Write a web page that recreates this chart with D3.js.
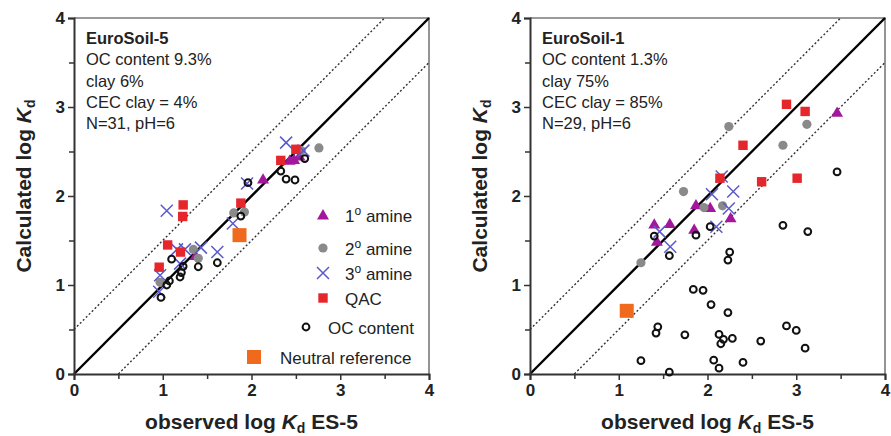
<!DOCTYPE html>
<html>
<head>
<meta charset="utf-8">
<script src="https://cdn.jsdelivr.net/npm/d3@7"></script>
<style>
  html, body { margin: 0; padding: 0; background: #fff; }
  svg { display: block; font-family: Arial, "Liberation Sans", sans-serif; }
</style>
</head>
<body>
<svg id="chart" width="891" height="436"></svg>
<script>
// ---- axis ticks ----
const majorTicks = [0, 1, 2, 3, 4];
const minorTicks = [0.5, 1.5, 2.5, 3.5];

// ---- EuroSoil-5 (observed log Kd, calculated log Kd) ----
const es5Primary = [[1.37, 1.33], [2.13, 2.19], [2.43, 2.40], [2.48, 2.41], [2.54, 2.45]];
const es5Secondary = [[0.97, 1.03], [1.345, 1.40], [1.40, 1.30], [1.80, 1.81], [1.92, 1.82], [2.56, 2.51], [2.76, 2.54]];
const es5Tertiary = [[1.045, 1.835], [1.16, 1.40], [1.25, 1.40], [1.43, 1.42], [1.615, 1.37], [1.195, 1.24],
                     [0.97, 1.11], [0.96, 0.925], [1.95, 2.14], [1.79, 1.69], [2.39, 2.60], [2.585, 2.51]];
const es5Qac = [[1.23, 1.90], [1.225, 1.77], [1.055, 1.45], [1.20, 1.37], [0.96, 1.20], [1.88, 1.92], [2.33, 2.40], [2.50, 2.525]];
const es5Oc = [[1.10, 1.29], [1.23, 1.21], [1.21, 1.14], [1.195, 1.09], [1.40, 1.205], [1.615, 1.25], [1.045, 1.00],
               [1.075, 1.045], [0.98, 0.86], [1.96, 2.15], [1.88, 1.775], [2.33, 2.28], [2.39, 2.19], [2.49, 2.18], [2.60, 2.42]];
const es5Neutral = [[1.865, 1.56]];

// ---- EuroSoil-1 ----
const es1Primary = [[1.87, 1.90], [2.03, 1.87], [1.40, 1.685], [1.575, 1.69], [1.43, 1.49], [1.85, 1.625], [2.26, 1.755], [3.46, 2.94]];
const es1Secondary = [[2.24, 2.78], [1.73, 2.05], [1.96, 1.87], [2.17, 1.89], [1.25, 1.25], [2.85, 2.57], [3.12, 2.805]];
const es1Tertiary = [[2.16, 2.22], [2.05, 2.02], [2.29, 2.05], [2.24, 1.86], [2.10, 1.655], [1.46, 1.60], [1.58, 1.43]];
const es1Qac = [[2.14, 2.20], [2.40, 2.57], [2.61, 2.16], [2.89, 3.03], [3.10, 2.95], [3.01, 2.20]];
const es1Oc = [[1.40, 1.55], [1.57, 1.33], [1.87, 1.56], [2.03, 1.655], [2.25, 1.37], [2.23, 1.28], [1.84, 0.95], [1.95, 0.94],
               [2.04, 0.78], [2.23, 0.69], [1.44, 0.53], [1.42, 0.46], [1.745, 0.44], [2.13, 0.445], [2.18, 0.39], [2.28, 0.40],
               [2.15, 0.34], [2.60, 0.37], [2.89, 0.54], [3.00, 0.49], [3.10, 0.29], [1.25, 0.15], [2.07, 0.155], [2.13, 0.065],
               [2.40, 0.13], [1.57, 0.02], [2.85, 1.67], [3.13, 1.60], [3.46, 2.27]];
const es1Neutral = [[1.09, 0.71]];

// ---- panel annotations ----
const es5Info = ["EuroSoil-5", "OC content 9.3%", "clay 6%", "CEC clay = 4%", "N=31, pH=6"];
const es1Info = ["EuroSoil-1", "OC content 1.3%", "clay 75%", "CEC clay = 85%", "N=29, pH=6"];
const legendLabels = [["1", " amine"], ["2", " amine"], ["3", " amine"], ["QAC"], ["OC content"], ["Neutral reference"]];

const colors = {
  primary: "#a3179c",
  secondary: "#8a8a8a",
  tertiary: "#5a5acb",
  qac: "#e5262b",
  oc: "#111111",
  neutral: "#ef6a1c"
};

const svg = d3.select("#chart");
const W = 355, H = 356;

const x = d3.scaleLinear().domain([0, 4]).range([0, W]);
const y = d3.scaleLinear().domain([0, 4]).range([H, 0]);

function drawPanel(ox, oy, data, info, withLegend) {
  const g = svg.append("g").attr("transform", `translate(${ox},${oy})`);

  // frame (top & right)
  g.append("path")
    .attr("d", `M0,0H${W}V${H}`)
    .attr("fill", "none").attr("stroke", "#7a7a7a").attr("stroke-width", 1.6);

  // 1:1 line and ±0.5 log-unit bands
  const lines = [
    { a: [0, 0], b: [4, 4], dash: null, w: 2.4, c: "#000" },
    { a: [0, 0.5], b: [3.5, 4], dash: "2,2.2", w: 1.4, c: "#333" },
    { a: [0.5, 0], b: [4, 3.5], dash: "2,2.2", w: 1.4, c: "#333" }
  ];
  lines.forEach(l => {
    g.append("line")
      .attr("x1", x(l.a[0])).attr("y1", y(l.a[1]))
      .attr("x2", x(l.b[0])).attr("y2", y(l.b[1]))
      .attr("stroke", l.c).attr("stroke-width", l.w)
      .attr("stroke-dasharray", l.dash);
  });

  // axes
  const xAxis = d3.axisBottom(x).tickValues(majorTicks).tickFormat(d3.format("d")).tickSize(6).tickPadding(3);
  const yAxis = d3.axisLeft(y).tickValues(majorTicks).tickFormat(d3.format("d")).tickSize(6).tickPadding(3);
  const xMinor = d3.axisBottom(x).tickValues(minorTicks).tickFormat("").tickSize(5);
  const yMinor = d3.axisLeft(y).tickValues(minorTicks).tickFormat("").tickSize(5);

  [g.append("g").attr("transform", `translate(0,${H})`).call(xMinor),
   g.append("g").call(yMinor)].forEach(a => {
    a.select(".domain").remove();
    a.selectAll("line").attr("stroke", "#333").attr("stroke-width", 1.5);
  });
  const gx = g.append("g").attr("transform", `translate(0,${H})`).call(xAxis);
  const gy = g.append("g").call(yAxis);
  [gx, gy].forEach(a => {
    a.select(".domain").attr("stroke", "#333").attr("stroke-width", 2);
    a.selectAll("line").attr("stroke", "#333").attr("stroke-width", 1.5);
    a.selectAll("text").attr("fill", "#222").attr("font-size", 17).attr("font-weight", "bold")
      .attr("font-family", "Arial, 'Liberation Sans', sans-serif");
  });
  gx.selectAll("text").attr("dy", "0.78em");

  // axis titles
  const xt = g.append("text")
    .attr("x", W / 2).attr("y", H + 55)
    .attr("text-anchor", "middle").attr("font-size", 21).attr("font-weight", "bold").attr("fill", "#222");
  xt.append("tspan").text("observed log ");
  xt.append("tspan").attr("font-style", "italic").text("K");
  xt.append("tspan").attr("font-size", 14).attr("dy", 3.5).text("d");
  xt.append("tspan").attr("dy", -3.5).text(" ES-5");

  const yt = g.append("text")
    .attr("transform", `translate(-43,${H / 2 - 10}) rotate(-90)`)
    .attr("text-anchor", "middle").attr("font-size", 21).attr("font-weight", "bold").attr("fill", "#222");
  yt.append("tspan").text("Calculated log ");
  yt.append("tspan").attr("font-style", "italic").text("K");
  yt.append("tspan").attr("font-size", 14).attr("dy", 3.5).text("d");

  // info block
  const info0 = g.append("g").attr("transform", "translate(12,0)");
  info.forEach((t, i) => {
    info0.append("text")
      .attr("x", 0).attr("y", 26 + i * 21.3)
      .attr("font-size", 16.5).attr("fill", "#222")
      .attr("font-weight", i === 0 ? "bold" : "normal")
      .text(t);
  });

  // markers
  const tri = d3.symbol().type(d3.symbolTriangle).size(62);
  g.append("g").selectAll("path").data(data.primary).join("path")
    .attr("d", tri)
    .attr("transform", d => `translate(${x(d[0])},${y(d[1]) + 1})`)
    .attr("fill", colors.primary);

  g.append("g").selectAll("circle").data(data.secondary).join("circle")
    .attr("cx", d => x(d[0])).attr("cy", d => y(d[1])).attr("r", 4.6)
    .attr("fill", colors.secondary);

  g.append("g").selectAll("path").data(data.tertiary).join("path")
    .attr("d", "M-6,-6L6,6M-6,6L6,-6")
    .attr("transform", d => `translate(${x(d[0])},${y(d[1])})`)
    .attr("stroke", colors.tertiary).attr("stroke-width", 1.5).attr("fill", "none");

  g.append("g").selectAll("rect").data(data.qac).join("rect")
    .attr("x", d => x(d[0]) - 4.7).attr("y", d => y(d[1]) - 4.7)
    .attr("width", 9.4).attr("height", 9.4)
    .attr("fill", colors.qac);

  g.append("g").selectAll("circle").data(data.oc).join("circle")
    .attr("cx", d => x(d[0])).attr("cy", d => y(d[1])).attr("r", 3.4)
    .attr("fill", "none").attr("stroke", colors.oc).attr("stroke-width", 2);

  g.append("g").selectAll("rect").data(data.neutral).join("rect")
    .attr("x", d => x(d[0]) - 7).attr("y", d => y(d[1]) - 7)
    .attr("width", 14).attr("height", 14)
    .attr("fill", colors.neutral);

  if (withLegend) {
    const lg = g.append("g");
    const rows = [
      { cy: 197, tx: 271, draw: s => s.append("path").attr("d", tri).attr("transform", "translate(249,198)").attr("fill", colors.primary) },
      { cy: 230, tx: 271, draw: s => s.append("circle").attr("cx", 249).attr("cy", 230).attr("r", 4.6).attr("fill", colors.secondary) },
      { cy: 255, tx: 271, draw: s => s.append("path").attr("d", "M-6,-6L6,6M-6,6L6,-6").attr("transform", "translate(249,255)").attr("stroke", colors.tertiary).attr("stroke-width", 1.5) },
      { cy: 280, tx: 271, draw: s => s.append("rect").attr("x", 244.3).attr("y", 275.3).attr("width", 9.4).attr("height", 9.4).attr("fill", colors.qac) },
      { cy: 309, tx: 254, draw: s => s.append("circle").attr("cx", 232).attr("cy", 309).attr("r", 3.4).attr("fill", "none").attr("stroke", colors.oc).attr("stroke-width", 2) },
      { cy: 339, tx: 206, draw: s => s.append("rect").attr("x", 173).attr("y", 332).attr("width", 14).attr("height", 14).attr("fill", colors.neutral) }
    ];
    rows.forEach((r, i) => {
      r.draw(lg);
      const t = lg.append("text").attr("x", r.tx).attr("y", r.cy + 6.5)
        .attr("font-size", 17).attr("fill", "#222");
      const lab = legendLabels[i];
      if (lab.length === 2) {
        t.append("tspan").text(lab[0]);
        t.append("tspan").attr("font-size", 12).attr("dy", -7).text("o");
        t.append("tspan").attr("dy", 7).text(lab[1]);
      } else {
        t.text(lab[0]);
      }
    });
  }
}

drawPanel(74, 18, {
  primary: es5Primary, secondary: es5Secondary, tertiary: es5Tertiary,
  qac: es5Qac, oc: es5Oc, neutral: es5Neutral
}, es5Info, true);

drawPanel(530, 18, {
  primary: es1Primary, secondary: es1Secondary, tertiary: es1Tertiary,
  qac: es1Qac, oc: es1Oc, neutral: es1Neutral
}, es1Info, false);
</script>
</body>
</html>
